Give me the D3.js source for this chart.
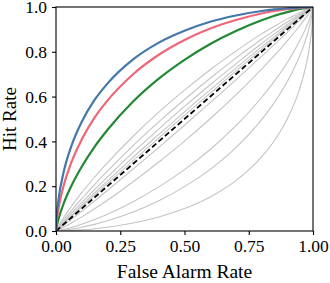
<!DOCTYPE html>
<html>
<head>
<meta charset="utf-8">
<script src="https://cdn.jsdelivr.net/npm/d3@7"></script>
<style>
  html, body { margin: 0; padding: 0; background: #fff; }
  svg text { font-family: "Liberation Serif", "DejaVu Serif", serif; fill: #000; }
</style>
</head>
<body>
<div id="chart"></div>
<script>
// ROC curves: hit rate vs false alarm rate

const falseAlarm = [0, 0.002, 0.01, 0.03, 0.06, 0.1, 0.15, 0.2, 0.3, 0.4, 0.5, 0.6, 0.7, 0.8, 0.85, 0.9, 0.94, 0.97, 0.99, 0.998, 1];

const blueHits  = [0, 0.052, 0.141, 0.264, 0.380, 0.487, 0.585, 0.658, 0.766, 0.841, 0.894, 0.934, 0.962, 0.982, 0.989, 0.994, 0.9975, 0.999, 0.9998, 1, 1];
const redHits   = [0, 0.034, 0.101, 0.203, 0.307, 0.408, 0.506, 0.582, 0.700, 0.787, 0.853, 0.904, 0.942, 0.971, 0.982, 0.990, 0.995, 0.998, 0.9996, 1, 1];
const greenHits = [0, 0.0156, 0.054, 0.123, 0.202, 0.287, 0.376, 0.451, 0.578, 0.680, 0.764, 0.835, 0.893, 0.941, 0.961, 0.977, 0.989, 0.995, 0.9988, 0.9999, 1];

const grayHits = [
    [0, 0.0054, 0.023, 0.060, 0.110, 0.171, 0.240, 0.304, 0.423, 0.531, 0.629, 0.720, 0.803, 0.880, 0.914, 0.947, 0.970, 0.987, 0.996, 0.9993, 1],
    [0, 0.0039, 0.0176, 0.048, 0.091, 0.144, 0.207, 0.267, 0.381, 0.487, 0.587, 0.682, 0.772, 0.856, 0.895, 0.933, 0.962, 0.982, 0.995, 0.999, 1],
    [0, 0.0031, 0.0144, 0.041, 0.079, 0.127, 0.185, 0.241, 0.351, 0.455, 0.556, 0.653, 0.746, 0.837, 0.880, 0.922, 0.955, 0.978, 0.993, 0.9987, 1],
    [0, 0.0026, 0.0124, 0.036, 0.070, 0.115, 0.170, 0.223, 0.329, 0.431, 0.532, 0.630, 0.727, 0.822, 0.868, 0.913, 0.949, 0.975, 0.992, 0.9985, 1],
    [0, 0.0023, 0.0111, 0.033, 0.065, 0.107, 0.160, 0.211, 0.314, 0.416, 0.516, 0.615, 0.714, 0.811, 0.859, 0.907, 0.945, 0.973, 0.991, 0.9982, 1],
    [0, 0.0016, 0.0083, 0.0255, 0.052, 0.088, 0.134, 0.181, 0.276, 0.373, 0.472, 0.573, 0.675, 0.780, 0.833, 0.887, 0.931, 0.965, 0.988, 0.9975, 1],
    [0, 0.0009, 0.005, 0.0166, 0.0355, 0.063, 0.099, 0.137, 0.220, 0.308, 0.401, 0.501, 0.608, 0.723, 0.784, 0.849, 0.904, 0.949, 0.981, 0.9957, 1],
    [0, 0.0003, 0.0017, 0.0066, 0.0156, 0.030, 0.051, 0.075, 0.131, 0.197, 0.274, 0.364, 0.470, 0.596, 0.669, 0.752, 0.831, 0.900, 0.958, 0.989, 1],
    [0, 0.0001, 0.0008, 0.0032, 0.0081, 0.0165, 0.0297, 0.0454, 0.0847, 0.135, 0.198, 0.275, 0.372, 0.497, 0.574, 0.667, 0.760, 0.849, 0.930, 0.979, 1],
    [0, 0, 0.0002, 0.0008, 0.0023, 0.0052, 0.0103, 0.0169, 0.0356, 0.0627, 0.100, 0.152, 0.225, 0.331, 0.404, 0.501, 0.608, 0.726, 0.852, 0.945, 1]
];

const chanceLine = [0, 1];
const xTicks = [0, 0.25, 0.5, 0.75, 1];
const yTicks = [0, 0.2, 0.4, 0.6, 0.8, 1];

const width = 330, height = 283;
const margin = { top: 7, right: 17, bottom: 52, left: 56 };

const svg = d3.select('#chart').append('svg')
    .attr('width', width)
    .attr('height', height);

const x = d3.scaleLinear().domain([0, 1]).range([margin.left, width - margin.right]);
const y = d3.scaleLinear().domain([0, 1]).range([height - margin.bottom, margin.top]);

svg.append('clipPath').attr('id', 'plot-clip')
    .append('rect')
    .attr('x', x(0)).attr('y', y(1))
    .attr('width', x(1) - x(0)).attr('height', y(0) - y(1));

const line = d3.line()
    .x((d, i) => x(falseAlarm[i]))
    .y(d => y(d))
    .curve(d3.curveMonotoneX);

const plot = svg.append('g').attr('clip-path', 'url(#plot-clip)');

// gray curves first
plot.append('g')
    .selectAll('path')
    .data(grayHits)
    .join('path')
    .attr('d', line)
    .attr('fill', 'none')
    .attr('stroke', '#c4c4c4')
    .attr('stroke-width', 1.1);

// chance diagonal
plot.append('line')
    .attr('x1', x(chanceLine[0])).attr('y1', y(chanceLine[0]))
    .attr('x2', x(chanceLine[1])).attr('y2', y(chanceLine[1]))
    .attr('stroke', '#000')
    .attr('stroke-width', 1.8)
    .attr('stroke-dasharray', '5.5,3');

const colored = [
    { hits: greenHits, color: '#228833' },
    { hits: redHits, color: '#ee6677' },
    { hits: blueHits, color: '#4477aa' }
];

plot.append('g')
    .selectAll('path')
    .data(colored)
    .join('path')
    .attr('d', d => line(d.hits))
    .attr('fill', 'none')
    .attr('stroke', d => d.color)
    .attr('stroke-width', 2.2);

// frame
svg.append('rect')
    .attr('x', x(0)).attr('y', y(1))
    .attr('width', x(1) - x(0)).attr('height', y(0) - y(1))
    .attr('fill', 'none')
    .attr('stroke', '#000')
    .attr('stroke-width', 1.1);

// axes
const xAxis = svg.append('g')
    .attr('transform', `translate(0,${y(0)})`)
    .call(d3.axisBottom(x).tickValues(xTicks).tickFormat(d3.format('.2f')).tickSize(4).tickPadding(5));

const yAxis = svg.append('g')
    .attr('transform', `translate(${x(0)},0)`)
    .call(d3.axisLeft(y).tickValues(yTicks).tickFormat(d3.format('.1f')).tickSize(4).tickPadding(5));

[xAxis, yAxis].forEach(a => {
    a.select('.domain').remove();
    a.selectAll('.tick line').attr('stroke', '#000').attr('stroke-width', 1.1);
    a.selectAll('.tick text').attr('font-size', 17.5).attr('font-family', '"Liberation Serif", serif');
});

svg.append('text')
    .attr('x', (x(0) + x(1)) / 2)
    .attr('y', 278)
    .attr('text-anchor', 'middle')
    .attr('font-size', 19.5)
    .text('False Alarm Rate');

svg.append('text')
    .attr('transform', `translate(16,${(y(0) + y(1)) / 2}) rotate(-90)`)
    .attr('text-anchor', 'middle')
    .attr('font-size', 19)
    .text('Hit Rate');
</script>
</body>
</html>
